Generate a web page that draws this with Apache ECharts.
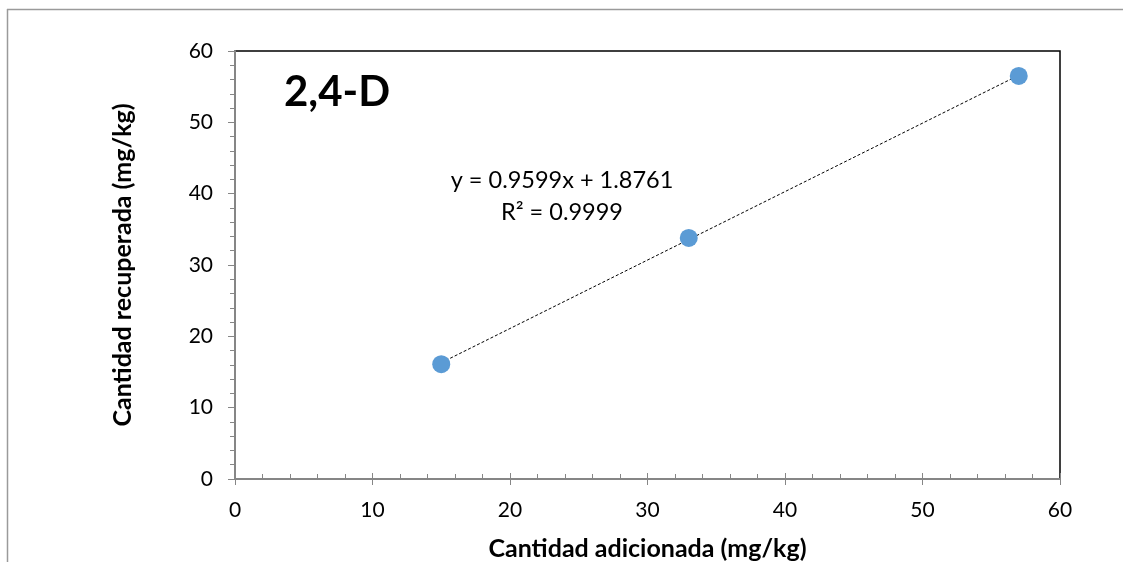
<!DOCTYPE html>
<html>
<head>
<meta charset="utf-8">
<script src="https://cdn.jsdelivr.net/npm/echarts@6/dist/echarts.min.js"></script>
<style>
html,body{margin:0;padding:0;background:#fff;}
#c{width:1123px;height:562px;}
</style>
</head>
<body>
<div id="c"></div>
<script>
const addedX = [15, 33, 57];
const recoveredY = [16.1, 33.8, 56.5];
const trendX = [15, 57];
const trendY = [16.3, 56.6];
const xTicks = [0, 10, 20, 30, 40, 50, 60];
const yTicks = [0, 10, 20, 30, 40, 50, 60];
const chartTitle = '2,4-D';
const eqText = 'y = 0.9599x + 1.8761';
const r2Text = 'R² = 0.9999';
const xName = 'Cantidad adicionada (mg/kg)';
const yName = 'Cantidad recuperada (mg/kg)';

const FONT = 'Lato, "Open Sans", sans-serif';
const grey = '#868686';
const chart = echarts.init(document.getElementById('c'));
chart.setOption({
  animation: false,
  backgroundColor: '#fff',
  grid: {left: 235, right: 63, top: 51, bottom: 83, containLabel: false, outerBoundsMode: 'none', show: true, borderColor: '#000', borderWidth: 1.5, backgroundColor: 'transparent'},
  xAxis: [{
    type: 'value', min: xTicks[0], max: xTicks[xTicks.length-1], interval: 10,
    position: 'bottom',
    name: xName, nameLocation: 'middle', nameGap: 57,
    nameTextStyle: {fontFamily: FONT, fontWeight: 'bold', fontSize: 25, color: '#000'},
    axisLine: {show: true, onZero: false, lineStyle: {color: grey, width: 2}},
    axisTick: {show: true, inside: false, length: 6, lineStyle: {color: grey, width: 1}},
    minorTick: {show: false},
    splitLine: {show: false},
    axisLabel: {fontFamily: FONT, fontSize: 21, color: '#000', margin: 21}
  }, {
    type: 'value', min: xTicks[0], max: xTicks[xTicks.length-1], interval: 10,
    position: 'bottom', offset: 0,
    axisLine: {show: false},
    axisTick: {show: true, inside: true, length: 6, lineStyle: {color: grey, width: 1}},
    minorTick: {show: true, splitNumber: 5, length: 5, lineStyle: {color: grey, width: 1}},
    splitLine: {show: false},
    axisLabel: {show: false}
  }],
  yAxis: {
    type: 'value', min: yTicks[0], max: yTicks[yTicks.length-1], interval: 10,
    name: yName, nameLocation: 'middle', nameGap: 100,
    nameTextStyle: {fontFamily: FONT, fontWeight: 'bold', fontSize: 25, color: '#000'},
    axisLine: {show: true, onZero: false, lineStyle: {color: grey, width: 2}},
    axisTick: {show: true, inside: false, length: 7, lineStyle: {color: grey, width: 1}},
    minorTick: {show: true, splitNumber: 5, length: 5, lineStyle: {color: grey, width: 1}},
    splitLine: {show: false},
    axisLabel: {fontFamily: FONT, fontSize: 21, color: '#000', margin: 22}
  },
  series: [{
    type: 'line',
    data: trendX.map((x, i) => [x, trendY[i]]),
    showSymbol: false, symbol: 'none',
    lineStyle: {color: '#000', width: 1, type: [3, 2]},
    z: 2
  }, {
    type: 'scatter',
    data: addedX.map((x, i) => [x, recoveredY[i]]),
    symbolSize: 18,
    itemStyle: {color: '#5B9BD5', opacity: 1},
    z: 3
  }],
  graphic: [
    {type: 'line', shape: {x1: 7, y1: 9.5, x2: 1123, y2: 9.5}, style: {stroke: '#9a9a9a', lineWidth: 1.5}},
    {type: 'line', shape: {x1: 7.5, y1: 9, x2: 7.5, y2: 562}, style: {stroke: '#9a9a9a', lineWidth: 1.5}},
    {type: 'text', x: 284, y: 92, style: {text: chartTitle, font: 'bold 42px ' + FONT, fill: '#000', verticalAlign: 'middle'}},
    {type: 'text', x: 562, y: 180, style: {text: eqText, font: '23.5px ' + FONT, fill: '#000', align: 'center', verticalAlign: 'middle'}},
    {type: 'text', x: 562, y: 212, style: {text: r2Text, font: '23.5px ' + FONT, fill: '#000', align: 'center', verticalAlign: 'middle'}}
  ]
});
</script>
</body>
</html>
